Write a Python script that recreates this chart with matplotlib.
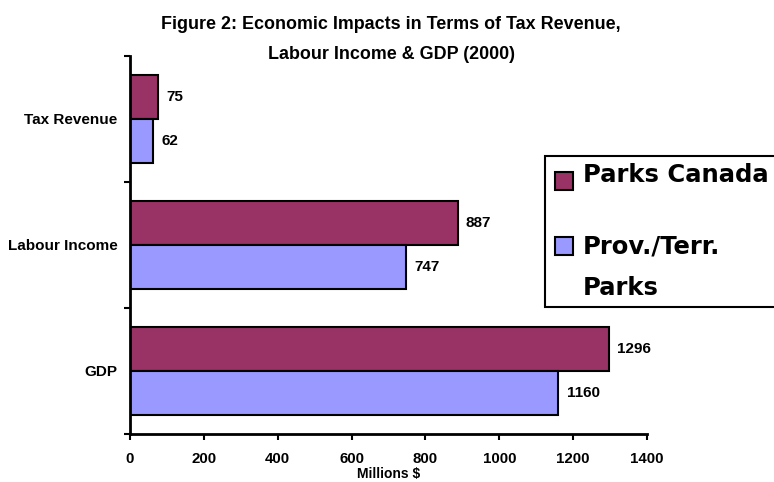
import matplotlib
matplotlib.use("Agg")
import matplotlib.pyplot as plt
from matplotlib.patches import Rectangle
import numpy as np

plt.rcParams['font.family'] = ['Liberation Sans', 'DejaVu Sans']
plt.rcParams['font.weight'] = 'bold'

categories = ["GDP", "Labour Income", "Tax Revenue"]
parks_canada = [1296, 887, 75]
prov_terr = [1160, 747, 62]
series_names = ["Parks Canada", "Prov./Terr.\nParks"]
series_colors = ["#993366", "#9999FF"]
xticks = [0, 200, 400, 600, 800, 1000, 1200, 1400]

W, H = 774, 482
fig = plt.figure(figsize=(W/100, H/100), dpi=100)
ax = fig.add_axes([130/W, 1-434/H, (647-130)/W, (434-56)/H])

y = np.arange(len(categories))
h = 0.35
b1 = ax.barh(y + h/2, parks_canada, height=h, color=series_colors[0], edgecolor="black", linewidth=1.5)
b2 = ax.barh(y - h/2, prov_terr, height=h, color=series_colors[1], edgecolor="black", linewidth=1.5)

for bars, vals in ((b1, parks_canada), (b2, prov_terr)):
    for rect, v in zip(bars, vals):
        ax.annotate(str(v), xy=(v, rect.get_y() + rect.get_height()/2), xytext=(6, 0),
                    textcoords="offset points", va="center", ha="left", fontsize=11, fontweight="bold")

ax.set_xlim(0, 1400)
ax.set_ylim(-0.5, 2.5)
ax.set_xticks(xticks)
ax.set_xticklabels([str(t) for t in xticks], fontsize=10.8, fontweight="bold")
ax.set_yticks(y)
ax.set_yticklabels(categories, fontsize=11, fontweight="bold")
ax.set_yticks([-0.5, 0.5, 1.5, 2.5], minor=True)
ax.tick_params(axis="y", which="major", length=0, pad=9)
ax.tick_params(axis="y", which="minor", length=4, width=1.5, direction="out")
ax.tick_params(axis="x", which="major", length=4, width=1.5, direction="out", pad=9)
for s in ["top", "right"]:
    ax.spines[s].set_visible(False)
for s in ["left", "bottom"]:
    ax.spines[s].set_linewidth(2.0)
ax.set_xlabel("Millions $", fontsize=10, fontweight="bold", va="baseline")
ax.xaxis.set_label_coords(0.5, (434 - 478) / (434 - 56))

fig.text(391/W, 1-29/H, "Figure 2: Economic Impacts in Terms of Tax Revenue,",
         ha="center", va="baseline", fontsize=12.85, fontweight="bold")
fig.text(391/W, 1-59/H, "Labour Income & GDP (2000)",
         ha="center", va="baseline", fontsize=12.85, fontweight="bold")

# Legend (Excel style: box running off the right edge)
frame = Rectangle((545/W, 1-307/H), 0.5, (307-156)/H, transform=fig.transFigure,
                  facecolor="white", edgecolor="black", linewidth=1.5, zorder=5)
fig.patches.append(frame)
handle_tops = [172, 237]
text_baselines = [182, 253]
line_step = 42
for col, name, top, base in zip(series_colors, series_names, handle_tops, text_baselines):
    fig.patches.append(Rectangle((555/W, 1-(top+18)/H), 18/W, 18/H, transform=fig.transFigure,
                                 facecolor=col, edgecolor="black", linewidth=1.5, zorder=6))
    for i, line in enumerate(name.split("\n")):
        fig.text(583/W, 1-(base + i*line_step)/H, line, ha="left", va="baseline", fontsize=17.5,
                 fontweight="bold", family="DejaVu Sans", zorder=7)

fig.savefig("out.png", dpi=100)
